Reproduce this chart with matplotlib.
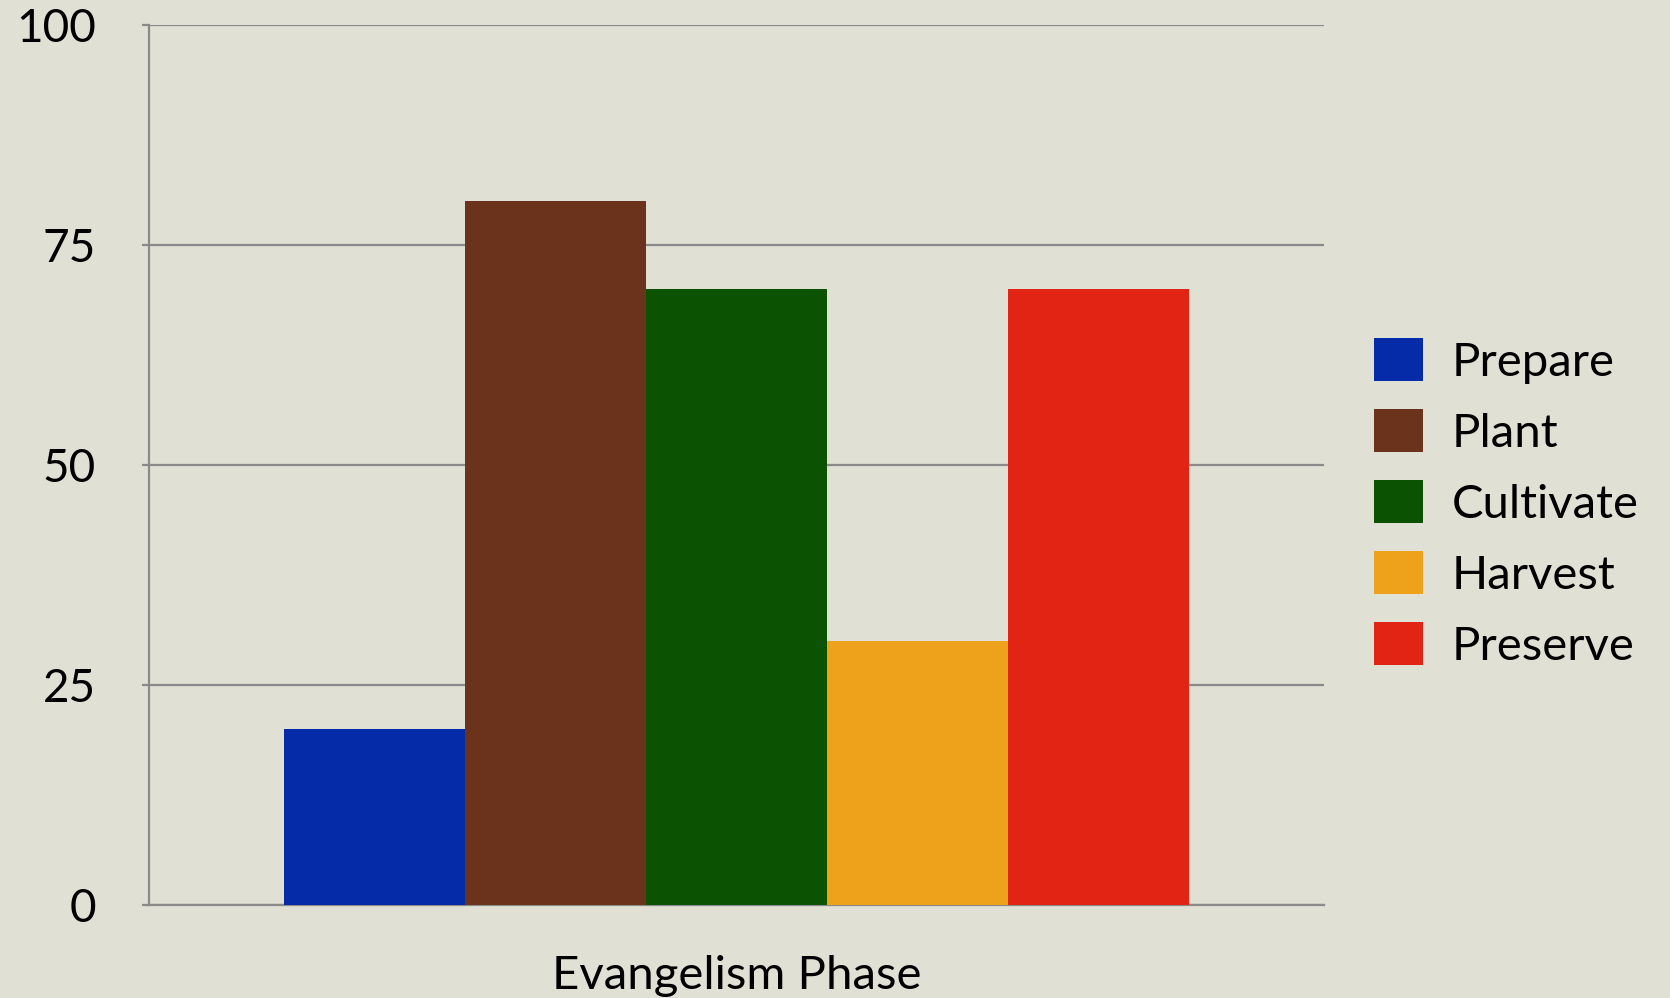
import matplotlib.pyplot as plt
import numpy as np

# data
phases = ['Prepare', 'Plant', 'Cultivate', 'Harvest', 'Preserve']
values = [20, 80, 70, 30, 70]
colors = ['#062ba8', '#6b331b', '#0b5302', '#eea21b', '#e22414']
yticks = [0, 25, 50, 75, 100]
xlabel = 'Evangelism Phase'

plt.rcParams['font.family'] = ['Lato', 'DejaVu Sans']
bg = '#e0e1d4'
grid_col = '#8a8a8a'

fig = plt.figure(figsize=(16.7, 9.98), dpi=100, facecolor=bg)
ax = fig.add_axes([0.089, 0.093, 0.704, 0.882])
ax.set_facecolor(bg)

w = 0.154
n = len(phases)
for i, (p, v, c) in enumerate(zip(phases, values, colors)):
    ax.bar((i - (n - 1) / 2) * w, v, width=w, color=c, label=p, zorder=3)

ax.set_xlim(-0.5, 0.5)
ax.set_ylim(0, 100)
ax.set_yticks(yticks)
ax.set_yticklabels([str(t) for t in yticks], fontsize=33)
ax.set_xticks([])
ax.yaxis.grid(True, color=grid_col, linewidth=1.6, zorder=0)
ax.tick_params(axis='y', length=5, width=1.6, color=grid_col, pad=33)

for s in ['top', 'right']:
    ax.spines[s].set_visible(False)
for s in ['left', 'bottom']:
    ax.spines[s].set_color(grid_col)
    ax.spines[s].set_linewidth(1.6)

ax.set_xlabel(xlabel, fontsize=34, labelpad=36)

fig.legend(loc='center left', bbox_to_anchor=(0.823, 0.496), frameon=False,
           fontsize=34, handlelength=1.02, handleheight=1.02,
           handletextpad=0.62, labelspacing=0.54, borderpad=0, borderaxespad=0)

fig.savefig('out.png', dpi=100, facecolor=bg)
